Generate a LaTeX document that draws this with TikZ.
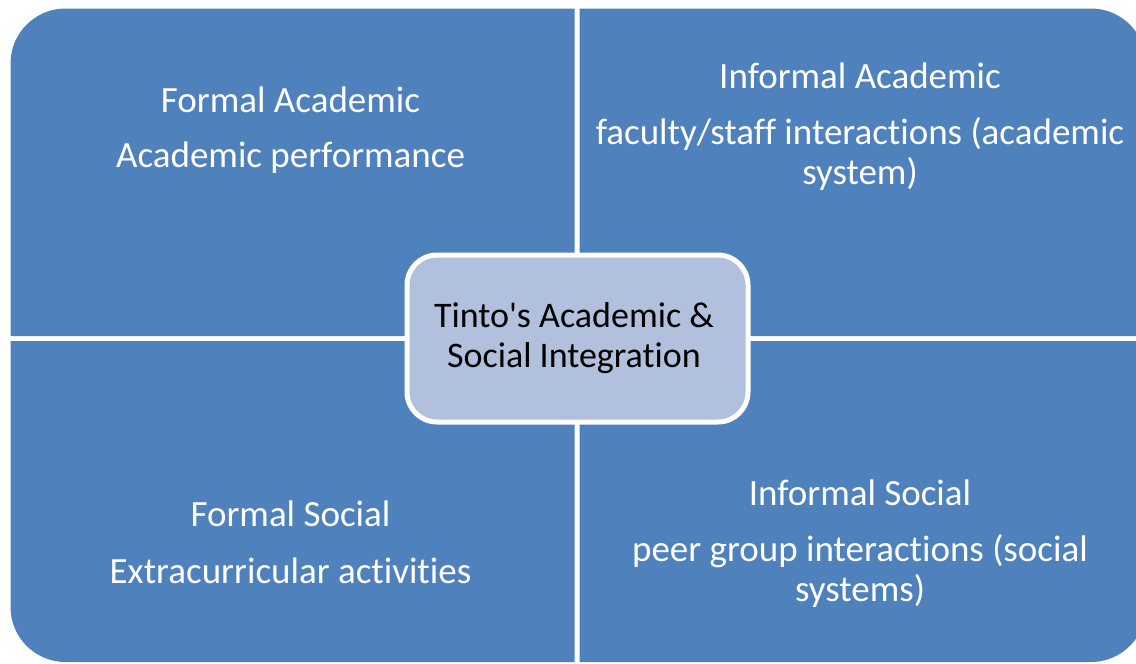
\documentclass[tikz,border=0pt]{standalone}
\usepackage{fontspec}
\setmainfont{Carlito}[Ligatures={TeXOff,NoCommon}]
\definecolor{quadblue}{RGB}{79,129,189}
\definecolor{hubfill}{RGB}{177,193,221}
\begin{document}
\begin{tikzpicture}[x=1pt,y=-1pt,
  quad/.style={fill=quadblue},
  qtext/.style={text=white,inner sep=0pt,anchor=base,font=\fontsize{37}{40}\selectfont},
  hub/.style={draw=white,line width=5pt,fill=hubfill,rounded corners=30pt,
    minimum width=341pt,minimum height=167pt,inner sep=0pt},
  htext/.style={text=black,inner sep=0pt,anchor=base,font=\fontsize{36}{40}\selectfont}]
\useasboundingbox (0,0) rectangle (1136,664);
\clip (0,0) rectangle (1136,664);

% four quadrants, each rounded only at its outer corner
\fill[quad] (574.5,336) -- (10.5,336) [rounded corners=55pt] -- (10.5,8.5) [sharp corners] -- (574.5,8.5) -- cycle;
\fill[quad] (579.5,336) -- (579.5,8.5) [rounded corners=55pt] -- (1146,8.5) [sharp corners] -- (1146,336) -- cycle;
\fill[quad] (574.5,341) -- (10.5,341) [rounded corners=55pt] -- (10.5,662) [sharp corners] -- (574.5,662) -- cycle;
\fill[quad] (579.5,341) -- (579.5,662) [rounded corners=55pt] -- (1146,662) [sharp corners] -- (1146,341) -- cycle;

% quadrant labels
\node[qtext] (fa1) at (290.5,112) {Formal Academic};
\node[qtext] (fa2) at (290.5,167) {Academic performance};

\node[qtext] (ia1) at (860,88) {Informal Academic};
\node[qtext] (ia2) at (860,144) {faculty/staff interactions (academic};
\node[qtext] (ia3) at (860,184) {system)};

\node[qtext] (fs1) at (290.5,526) {Formal Social};
\node[qtext] (fs2) at (290.5,583) {Extracurricular activities};

\node[qtext] (is1) at (860,505) {Informal Social};
\node[qtext] (is2) at (860,561) {peer group interactions (social};
\node[qtext] (is3) at (860,601) {systems)};

% central hub
\node[hub] (hub) at (577.5,338.5) {};
\node[htext] (h1) at (574,327) {Tinto's Academic \&};
\node[htext] (h2) at (574,367) {Social Integration};
\end{tikzpicture}
\end{document}
